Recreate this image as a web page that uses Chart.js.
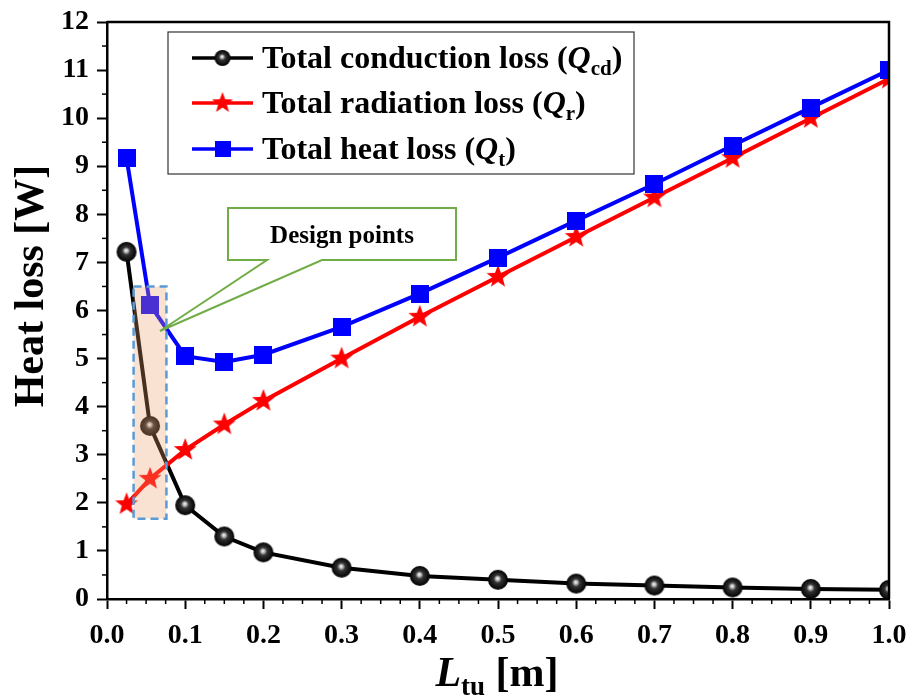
<!DOCTYPE html>
<html><head><meta charset="utf-8">
<script src="https://cdn.jsdelivr.net/npm/chart.js@4.4.1/dist/chart.umd.min.js"></script>
<style>html,body{margin:0;padding:0;background:#fff}#wrap{width:912px;height:700px}</style>
</head><body><div id="wrap"><canvas id="c" width="912" height="700"></canvas></div>
<script>
// ---- data ----
const lengths = [0.025, 0.055, 0.1, 0.15, 0.2, 0.3, 0.4, 0.5, 0.6, 0.7, 0.8, 0.9, 1.0];
const conductionLoss = [7.22, 3.60, 1.95, 1.30, 0.97, 0.65, 0.48, 0.40, 0.32, 0.28, 0.24, 0.21, 0.19];
const radiationLoss = [1.97, 2.50, 3.10, 3.63, 4.12, 5.00, 5.87, 6.70, 7.53, 8.35, 9.17, 10.00, 10.82];
const totalLoss = [9.17, 6.12, 5.05, 4.93, 5.08, 5.66, 6.35, 7.10, 7.87, 8.63, 9.43, 10.22, 11.00];
const xTickValues = [0.0, 0.1, 0.2, 0.3, 0.4, 0.5, 0.6, 0.7, 0.8, 0.9, 1.0];
const yTickValues = [0, 1, 2, 3, 4, 5, 6, 7, 8, 9, 10, 11, 12];
const seriesNames = ['Total conduction loss', 'Total radiation loss', 'Total heat loss'];
const seriesSymbols = ['cd', 'r', 't'];
const annotationText = 'Design points';
const xTitleMain = 'L', xTitleSub = 'tu', xTitleUnit = ' [m]';
const yTitle = 'Heat loss [W]';

const FONT = '"Liberation Serif", "Times New Roman", serif';

// ---- marker images ----
function sphereImg(r) {
  const c = document.createElement('canvas'); c.width = c.height = 2 * r + 2;
  const g = c.getContext('2d'); const cx = r + 1, cy = r + 1;
  const gr = g.createRadialGradient(cx - 0.5, cy - 1.5, 0, cx, cy, r);
  gr.addColorStop(0, '#ffffff'); gr.addColorStop(0.18, '#bbbbbb');
  gr.addColorStop(0.4, '#333333'); gr.addColorStop(1, '#000000');
  g.fillStyle = gr; g.beginPath(); g.arc(cx, cy, r, 0, Math.PI * 2); g.fill();
  return c;
}
function starImg(R, color) {
  const c = document.createElement('canvas'); c.width = c.height = 2 * R + 2;
  const g = c.getContext('2d'); const cx = R + 1, cy = R + 1, ri = R * 0.42;
  g.fillStyle = color; g.beginPath();
  for (let i = 0; i < 10; i++) {
    const rr = i % 2 ? ri : R; const a = -Math.PI / 2 + i * Math.PI / 5;
    const px = cx + rr * Math.cos(a), py = cy + rr * Math.sin(a);
    i ? g.lineTo(px, py) : g.moveTo(px, py);
  }
  g.closePath(); g.fill(); return c;
}
function squareImg(s, color) {
  const c = document.createElement('canvas'); c.width = c.height = s;
  const g = c.getContext('2d'); g.fillStyle = color; g.fillRect(0, 0, s, s); return c;
}
const sphere = sphereImg(10), star = starImg(12, '#ff0000'), square = squareImg(18, '#0000ff');
const legendMarkers = [sphereImg(8), starImg(11, '#ff0000'), squareImg(16, '#0000ff')];
const colors = ['#000000', '#ff0000', '#0000ff'];

function pts(ys) { return lengths.map((x, i) => ({ x, y: ys[i] })); }

// ---- custom drawing plugin ----
const deco = {
  id: 'deco',
  afterDatasetsDraw(chart) {
    const { ctx, scales: { x, y } } = chart;
    const x0 = x.getPixelForValue(0.034), x1 = x.getPixelForValue(0.076);
    const y0 = y.getPixelForValue(6.5), y1 = y.getPixelForValue(1.67);
    ctx.save();
    ctx.fillStyle = 'rgba(240,160,110,0.3)';
    ctx.fillRect(x0, y0, x1 - x0, y1 - y0);
    ctx.strokeStyle = '#5b9bd5'; ctx.lineWidth = 2.5; ctx.setLineDash([8, 5]);
    ctx.strokeRect(x0, y0, x1 - x0, y1 - y0);
    ctx.restore();
  },
  afterDraw(chart) {
    const { ctx, chartArea: a, scales: { x, y } } = chart;
    ctx.save();
    ctx.strokeStyle = '#000'; ctx.lineWidth = 2.5;
    ctx.beginPath(); ctx.moveTo(a.left, a.top); ctx.lineTo(a.right, a.top); ctx.lineTo(a.right, a.bottom); ctx.stroke();
    ctx.lineWidth = 1.5;
    for (let v = 0.025; v < 1; v += 0.025) {
      if (Math.abs(v * 10 - Math.round(v * 10)) < 1e-6) continue;
      const px = x.getPixelForValue(v);
      ctx.beginPath(); ctx.moveTo(px, a.bottom); ctx.lineTo(px, a.bottom + 5); ctx.stroke();
    }
    for (let v = 0.5; v < 12; v += 1) {
      const py = y.getPixelForValue(v);
      ctx.beginPath(); ctx.moveTo(a.left, py); ctx.lineTo(a.left - 5, py); ctx.stroke();
    }
    // axis titles
    ctx.fillStyle = '#000';
    ctx.save();
    ctx.translate(32, 286); ctx.rotate(-Math.PI / 2);
    ctx.font = 'bold 42px ' + FONT; ctx.textAlign = 'center'; ctx.textBaseline = 'middle';
    ctx.fillText(yTitle, 0, 0);
    ctx.restore();
    {
      const f1 = 'italic bold 42px ' + FONT, f2 = 'bold 27px ' + FONT, f3 = 'bold 42px ' + FONT;
      ctx.font = f1; const w1 = ctx.measureText(xTitleMain).width;
      ctx.font = f2; const w2 = ctx.measureText(xTitleSub).width;
      ctx.font = f3; const w3 = ctx.measureText(xTitleUnit).width;
      let sx = 497 - (w1 + w2 + w3) / 2; const by = 686;
      ctx.textBaseline = 'alphabetic'; ctx.textAlign = 'left';
      ctx.font = f1; ctx.fillText(xTitleMain, sx, by); sx += w1;
      ctx.font = f2; ctx.fillText(xTitleSub, sx, by + 9); sx += w2;
      ctx.font = f3; ctx.fillText(xTitleUnit, sx, by);
    }
    // legend
    ctx.fillStyle = '#fff'; ctx.fillRect(168, 32, 466, 142);
    ctx.strokeStyle = '#333'; ctx.lineWidth = 1.2; ctx.strokeRect(168, 32, 466, 142);
    const rows = [58, 103, 149];
    seriesNames.forEach((name, i) => {
      const ly = rows[i];
      ctx.strokeStyle = colors[i]; ctx.lineWidth = 3.5;
      ctx.beginPath(); ctx.moveTo(192, ly); ctx.lineTo(253, ly); ctx.stroke();
      const m = legendMarkers[i]; ctx.drawImage(m, 222.5 - m.width / 2, ly - m.height / 2);
      ctx.fillStyle = '#000'; ctx.textBaseline = 'alphabetic'; ctx.textAlign = 'left';
      const base = ly + 10;
      let sx = 262;
      ctx.font = 'bold 32px ' + FONT; ctx.fillText(name + ' (', sx, base); sx += ctx.measureText(name + ' (').width;
      ctx.font = 'italic bold 32px ' + FONT; ctx.fillText('Q', sx, base); sx += ctx.measureText('Q').width;
      ctx.font = 'bold 21px ' + FONT; ctx.fillText(seriesSymbols[i], sx, base + 7); sx += ctx.measureText(seriesSymbols[i]).width;
      ctx.font = 'bold 32px ' + FONT; ctx.fillText(')', sx, base);
    });
    // design points callout
    const bx = 228, byy = 208, bw = 228, bh = 52;
    ctx.fillStyle = '#fff'; ctx.strokeStyle = '#70ad47'; ctx.lineWidth = 2;
    ctx.beginPath();
    ctx.moveTo(bx, byy); ctx.lineTo(bx + bw, byy); ctx.lineTo(bx + bw, byy + bh);
    ctx.lineTo(322, byy + bh); ctx.lineTo(160, 331); ctx.lineTo(267, byy + bh);
    ctx.lineTo(bx, byy + bh); ctx.closePath(); ctx.fill(); ctx.stroke();
    ctx.fillStyle = '#000'; ctx.font = 'bold 25px ' + FONT; ctx.textAlign = 'center'; ctx.textBaseline = 'alphabetic';
    ctx.fillText(annotationText, bx + bw / 2, 243);
    ctx.restore();
  }
};

new Chart(document.getElementById('c'), {
  type: 'scatter',
  data: {
    datasets: [
      { label: seriesNames[0], data: pts(conductionLoss), showLine: true, borderColor: colors[0], borderWidth: 4, pointStyle: sphere, order: 3 },
      { label: seriesNames[1], data: pts(radiationLoss), showLine: true, borderColor: colors[1], borderWidth: 4, pointStyle: star, order: 2 },
      { label: seriesNames[2], data: pts(totalLoss), showLine: true, borderColor: colors[2], borderWidth: 4, pointStyle: square, order: 1 }
    ]
  },
  options: {
    responsive: false, animation: false,
    layout: { padding: { top: 22, right: 23, left: 0, bottom: 0 } },
    plugins: { legend: { display: false }, tooltip: { enabled: false } },
    scales: {
      x: {
        type: 'linear', min: 0, max: 1,
        afterBuildTicks: s => { s.ticks = xTickValues.map(v => ({ value: v })); },
        afterFit: s => { s.height = 101; s.paddingLeft = 0; s.paddingRight = 0; },
        ticks: { callback: v => Number(v).toFixed(1), color: '#000', font: { family: FONT, size: 28, weight: 'bold' }, padding: 10, maxRotation: 0, autoSkip: false },
        grid: { drawOnChartArea: false, drawTicks: true, tickLength: 10, tickWidth: 2, color: '#000' },
        border: { display: true, color: '#000', width: 2.5 }
      },
      y: {
        type: 'linear', min: 0, max: 12,
        afterBuildTicks: s => { s.ticks = yTickValues.map(v => ({ value: v })); },
        afterFit: s => { s.width = 107; s.paddingTop = 0; s.paddingBottom = 0; },
        ticks: { color: '#000', font: { family: FONT, size: 28, weight: 'bold' }, padding: 8, autoSkip: false },
        grid: { drawOnChartArea: false, drawTicks: true, tickLength: 10, tickWidth: 2, color: '#000' },
        border: { display: true, color: '#000', width: 2.5 }
      }
    }
  },
  plugins: [deco]
});
</script></body></html>
